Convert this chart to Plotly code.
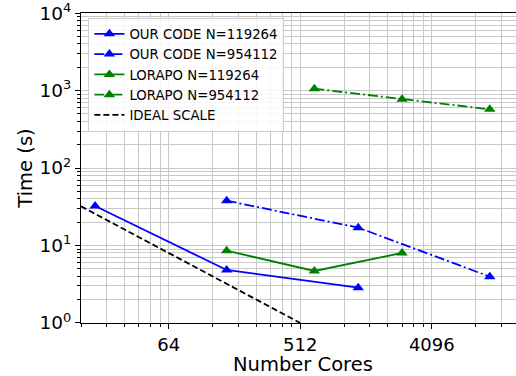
import numpy as np
import plotly.graph_objects as go

cores_small = [20, 160, 1280]
our_small = [32.3, 4.83, 2.85]
cores_big = [160, 1280, 10240]
our_big = [37.8, 17.0, 3.96]
cores_lorapo = [160, 640, 2560]
lorapo_small = [8.57, 4.69, 8.0]
cores_lorapo_big = [640, 2560, 10240]
lorapo_big = [1055, 770, 572]
ideal_cores = [16, 512]
ideal_time = [32, 1]

x_ticks = [64, 512, 4096]
x_ticklabels = ["64", "512", "4096"]
y_ticks = [1, 10, 100, 1000, 10000]
y_ticklabels = ["10<sup>0</sup>", "10<sup>1</sup>", "10<sup>2</sup>", "10<sup>3</sup>", "10<sup>4</sup>"]

BLUE = "#0000ff"
GREEN = "#008000"
DASHDOT = "10px,3px,2px,3px"

fig = go.Figure()
mk = dict(symbol="triangle-up", size=10)
fig.add_trace(go.Scatter(x=cores_small, y=our_small, mode="lines+markers", name="OUR CODE N=119264",
                         line=dict(color=BLUE, width=1.8), marker=dict(color=BLUE, **mk)))
fig.add_trace(go.Scatter(x=cores_big, y=our_big, mode="lines+markers", name="OUR CODE N=954112",
                         line=dict(color=BLUE, width=1.8, dash=DASHDOT), marker=dict(color=BLUE, **mk)))
fig.add_trace(go.Scatter(x=cores_lorapo, y=lorapo_small, mode="lines+markers", name="LORAPO N=119264",
                         line=dict(color=GREEN, width=1.8), marker=dict(color=GREEN, **mk)))
fig.add_trace(go.Scatter(x=cores_lorapo_big, y=lorapo_big, mode="lines+markers", name="LORAPO N=954112",
                         line=dict(color=GREEN, width=1.8, dash=DASHDOT), marker=dict(color=GREEN, **mk)))
fig.add_trace(go.Scatter(x=ideal_cores, y=ideal_time, mode="lines", name="IDEAL SCALE",
                         line=dict(color="black", width=1.8, dash="6px,3px")))

minor_x = [m * 8 ** k for k in range(1, 5) for m in range(2, 8)] + [8 ** k for k in range(1, 5)]
minor_y = [m * 10 ** k for k in range(0, 4) for m in range(2, 10)]

grid_c = "#c8c8c8"
fig.update_xaxes(type="log", range=[np.log10(16), np.log10(15500)],
                 tickvals=x_ticks, ticktext=x_ticklabels,
                 ticks="outside", ticklen=5, tickcolor="black",
                 showline=True, linecolor="black", linewidth=1.2, mirror=True,
                 showgrid=True, gridcolor=grid_c, gridwidth=1,
                 minor=dict(tickmode="array", tickvals=minor_x, ticks="outside", ticklen=3,
                            tickcolor="black", showgrid=True, gridcolor=grid_c, gridwidth=1),
                 tickfont=dict(size=18, color="black"), ticklabeloverflow="allow",
                 zeroline=False, automargin=False)
fig.update_yaxes(type="log", range=[-0.0005, 4.0005],
                 tickvals=y_ticks, ticktext=y_ticklabels,
                 ticks="outside", ticklen=5, tickcolor="black",
                 showline=True, linecolor="black", linewidth=1.2, mirror=False,
                 showgrid=True, gridcolor=grid_c, gridwidth=1,
                 minor=dict(tickmode="array", tickvals=minor_y, ticks="outside", ticklen=3,
                            tickcolor="black", showgrid=True, gridcolor=grid_c, gridwidth=1),
                 tickfont=dict(size=18.5, color="black"), ticklabeloverflow="allow",
                 title=dict(text="Time (s)", font=dict(size=19.5, color="black"), standoff=1),
                 zeroline=False, automargin=False)

fig.add_annotation(text="Number Cores", xref="paper", yref="paper", x=0.51, y=0,
                   xanchor="center", yanchor="middle", yshift=-41, showarrow=False,
                   font=dict(size=19.5, color="black"))

fig.update_layout(width=516, height=376,
                  margin=dict(l=81, r=0, t=13, b=53),
                  paper_bgcolor="white", plot_bgcolor="white",
                  font=dict(family="DejaVu Sans", color="black"),
                  legend=dict(x=0.017, y=0.985, xanchor="left", yanchor="top",
                              bgcolor="rgba(255,255,255,0.85)", bordercolor="#cccccc", borderwidth=1,
                              font=dict(size=13.3, color="black"), tracegroupgap=0,
                              itemwidth=30))

fig.write_html("out.html", config={"displayModeBar": False},
               post_script="document.body.style.margin='0';")
